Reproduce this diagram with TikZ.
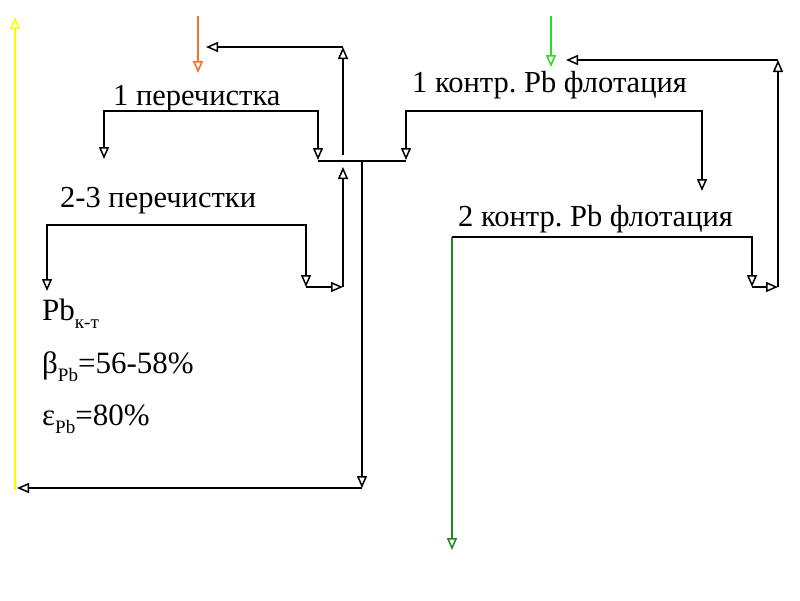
\documentclass[tikz,border=0pt]{standalone}
\usepackage{fontspec}
\setmainfont{Liberation Serif}
\usetikzlibrary{arrows.meta}
\definecolor{FsYellow}{RGB}{255,250,0}
\definecolor{FsOrange}{RGB}{250,110,40}
\definecolor{FsLime}{RGB}{40,220,40}
\definecolor{FsGreen}{RGB}{30,135,30}
\newcommand{\fssub}[1]{\raisebox{-8pt}{\fontsize{19}{19}\selectfont #1}}
\frenchspacing
\tikzset{
  fs line/.style={line width=1.9pt, black},
  fs arrow/.style={fs line, -{Triangle[open,length=12pt,width=10pt,line width=1.5pt]}},
  fs feed/.style={fs arrow, draw=#1},
  fs label/.style={anchor=base west, inner sep=0pt, font=\fontsize{30.5}{36}\selectfont},
  fs assay/.style={anchor=base west, inner sep=0pt, font=\fontsize{31}{36}\selectfont}
}

\begin{document}
\begin{tikzpicture}[x=1pt,y=-1pt]
\useasboundingbox[fill=white] (0,0) rectangle (800,600);
% operations
\node[fs label] (cl1) at (113,105) {1 перечистка};
\node[fs label] (cl23) at (60,207) {2-3 перечистки};
\node[fs label] (sc1) at (412,92) {1 контр. Pb флотация};
\node[fs label] (sc2) at (458,226) {2 контр. Pb флотация};
\node[fs assay] (conc) at (42,320) {Pb\fssub{к-т}};
\node[fs assay] (beta) at (42,373) {β\fssub{Pb}=56-58\%};
\node[fs assay] (eps) at (42,425) {ε\fssub{Pb}=80\%};
% points of the lines
\coordinate (cl1L) at (104,111); \coordinate (cl1R) at (318,111);
\coordinate (cl1c) at (104,159); \coordinate (cl1t) at (318,160);
\coordinate (sc1L) at (406,111); \coordinate (sc1R) at (702,111);
\coordinate (sc1c) at (406,160); \coordinate (sc1t) at (702,191);
\coordinate (jL) at (318,161); \coordinate (jR) at (406,161);
\coordinate (cl23L) at (47,225); \coordinate (cl23R) at (306,225);
\coordinate (cl23c) at (47,291); \coordinate (cl23t) at (306,287);
\coordinate (sc2L) at (452,237); \coordinate (sc2R) at (752,237);
\coordinate (sc2t) at (752,287); \coordinate (tails) at (452,550);
\coordinate (mid1) at (343,287); \coordinate (mid1top) at (343,167);
\coordinate (rec1) at (343,155); \coordinate (rec1top) at (343,47);
\coordinate (feed1) at (206,47);
\coordinate (mid2) at (778,287); \coordinate (rec2top) at (778,60);
\coordinate (feed2) at (566,60);
\coordinate (ret) at (362,161); \coordinate (retlow) at (362,488);
\coordinate (out) at (17,488);
% feeds and products
\draw[fs feed=FsYellow] (15,490) -- (15,17);
\draw[fs feed=FsOrange] (198,16) -- (198,73);
\draw[fs feed=FsLime] (551,16) -- (551,67);
\draw[fs feed=FsGreen] (sc2L) -- (tails);
% cleaners
\draw[fs arrow] (cl1R) -- (cl1L) -- (cl1c);
\draw[fs arrow] (cl1L) -- (cl1R) -- (cl1t);
\draw[fs arrow] (cl23R) -- (cl23L) -- (cl23c);
\draw[fs arrow] (cl23L) -- (cl23R) -- (cl23t);
\draw[fs arrow] (cl23t) |- (mid1);
\draw[fs arrow] (mid1) -- (mid1top);
\draw[fs line] (jL) -- (jR);
\draw[fs arrow] (rec1) -- (rec1top);
\draw[fs arrow] (rec1top) -- (feed1);
\draw[fs arrow] (ret) -- (retlow);
\draw[fs arrow] (retlow) -- (out);
% scavengers
\draw[fs arrow] (sc1R) -- (sc1L) -- (sc1c);
\draw[fs arrow] (sc1L) -- (sc1R) -- (sc1t);
\draw[fs arrow] (sc2L) -- (sc2R) -- (sc2t);
\draw[fs arrow] (sc2t) |- (mid2);
\draw[fs arrow] (mid2) -- (rec2top);
\draw[fs arrow] (rec2top) -- (feed2);
\end{tikzpicture}
\end{document}
